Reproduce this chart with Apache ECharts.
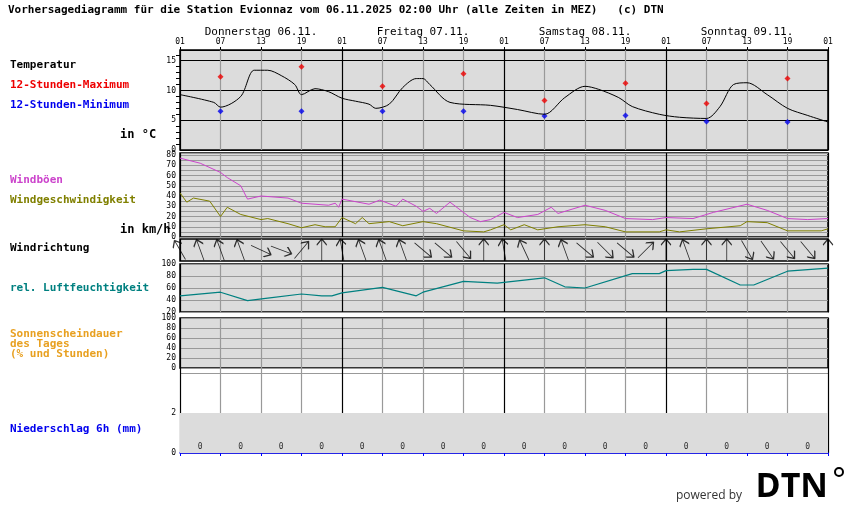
<!DOCTYPE html>
<html>
<head>
<meta charset="utf-8">
<script src="https://cdn.jsdelivr.net/npm/echarts@6/dist/echarts.min.js"></script>
<style>
body{margin:0;background:#fff;}
#chart{width:850px;height:524px;}
</style>
</head>
<body>
<div id="chart"></div>
<script>
// Stunden ab 06.11. 01 Uhr
var hourLabels = ['01','07','13','19'];
var dayNames = ['Donnerstag 06.11.','Freitag 07.11.','Samstag 08.11.','Sonntag 09.11.'];

var tempHours = [0,5,6,9,11,13,15,17,18,20,22,24,26,28,29,31,33,35,36,37,40,46,50,54,57,60,62,65,67,71,74,78,80,82,84,87,90,93,96];
var tempVals  = [9.3,8.0,7.2,9.0,13.4,13.4,12.5,11.0,9.3,10.3,9.8,8.7,8.2,7.7,7.0,7.7,10.5,12.0,12.0,11.0,8.0,7.5,6.8,6.0,8.8,10.7,10.2,8.8,7.3,6.0,5.5,5.3,7.3,11.0,11.3,9.3,7.0,5.8,4.7];
var extHours = [6,18,30,42,54,66,78,90];
var maxVals = [12.3,14.0,10.7,12.8,8.3,11.2,7.8,12.0];
var minVals = [6.5,6.5,6.5,6.5,5.7,5.8,4.8,4.7];

var gustHours = [0,3,6,7,9,10,12,16,18,22,23,23.5,24,28,29.6,32,33,35,36,37,38,40,43,44.5,46,48,50,53,55,56,60,63,66,70,72,76,79,84,87,90,93,96];
var gustVals  = [77,72,63,58,50,37,40,38,33,31,33,29,37,32,36,30,37,30,25,28,23,34,19,15,17,24,19,22,29,23,31,26,18,17,19,18,24,32,26,18,17,18];
var windHours = [0,1,2,4.4,6,7,9,12,13,16,18,20,21.5,23,24,26,27,28,31,33,36,38,42,45,46,48,49,51,53,56,60,63,66,71,72,74,78,83,84,87,90,95,96];
var windVals  = [43,34,38,35,20,29,22,17,18,13,9,12,10,10,19,13,19,13,15,11,15,13,6,5,7,12,7,12,7,10,12,10,5,5,7,5,8,11,15,14,6,6,8];

var dirHours = [0,3,6,9,12,15,18,21,24,27,30,33,36,39,42,45,48,51,54,57,60,63,66,69,72,75,78,81,84,87,90,93,96];
var dirVals  = [330,340,340,340,115,110,40,0,350,340,340,340,130,130,140,0,350,335,0,340,130,135,130,45,0,340,0,0,150,145,140,140,0];

var rhHours = [0,6,10,13,18,21,22.5,24,30,35,36,42,47,54,57,60,67,71,72,76,78,83,85,90,96];
var rhVals  = [47,53,39,43,50,47,47,52,61,47,53,71,68,77,62,60,84,84,89,91,91,65,65,88,93];

var precipHours = [3,9,15,21,27,33,39,45,51,57,63,69,75,81,87,93];
var precipVals  = [0,0,0,0,0,0,0,0,0,0,0,0,0,0,0,0];

var F = 'DejaVu Sans Mono';
var L = 180, W = 648;
var panels = [
  {top:50, height:100},   // Temperatur
  {top:153, height:84},   // Wind
  {top:239, height:22},   // Richtung
  {top:264, height:48},   // Feuchte
  {top:318, height:50},   // Sonne
  {top:368, height:85}    // Niederschlag
];
var vLineColors = ['#000','#999','#999','#999'];

function zip(h,v){ return h.map(function(x,i){ return [x,v[i]]; }); }

var grids = panels.map(function(p,i){
  return {left:L, width:W, top:p.top, height:p.height, show:true,
    backgroundColor: i==5 ? '#fff' : '#dcdcdc', borderColor: i==5 ? 'transparent' : '#000', borderWidth:1.5};
});
var xAxes = panels.map(function(p,i){
  return {type:'value', gridIndex:i, min:0, max:96, interval:6,
    position:'top',
    axisLine:{show: i==5, onZero:false, lineStyle:{color:'#00f', width:1.5}},
    axisTick:{show: i==5 || i==0, inside:false, length:3, lineStyle:{color: i==5 ? '#00f' : '#000'}},
    axisLabel:{show: i==0, fontFamily:F, fontSize:8, color:'#000', margin:4,
      formatter:function(v){ return hourLabels[(v/6)%4]; }},
    splitLine:{show:true, lineStyle:{color:vLineColors, width:1.2}}
  };
});
xAxes[5].position = 'bottom';
var ylab = {fontFamily:F, fontSize:8, color:'#000', margin:4};
var yAxes = [
  {gridIndex:0, min:0, max:16.8, interval:5, axisLabel:Object.assign({showMaxLabel:false},ylab),
   axisLine:{show:false}, axisTick:{show:false}, minorTick:{show:true, splitNumber:5, length:4, lineStyle:{color:'#000'}},
   splitLine:{lineStyle:{color:'#000'}}},
  {gridIndex:1, min:0, max:82, interval:10, axisLabel:Object.assign({showMaxLabel:false},ylab),
   axisLine:{show:false}, axisTick:{show:false},
   splitLine:{lineStyle:{color:'#999'}}, minorSplitLine:{show:true, lineStyle:{color:'#999'}}, minorTick:{show:false, splitNumber:2}},
  {gridIndex:2, min:0, max:1, show:false},
  {gridIndex:3, min:20, max:100, interval:20, axisLabel:ylab, axisLine:{show:false}, axisTick:{show:false},
   splitLine:{lineStyle:{color:'#999'}}},
  {gridIndex:4, min:0, max:100, interval:20, axisLabel:ylab, axisLine:{show:false}, axisTick:{show:false},
   splitLine:{lineStyle:{color:'#999'}}},
  {gridIndex:5, min:0, max:4.25, interval:2,
   axisLabel:Object.assign({formatter:function(v){ return v > 2 ? '' : String(v); }},ylab),
   axisLine:{show:true, lineStyle:{color:'#000'}}, axisTick:{show:false},
   splitLine:{lineStyle:{color:'#999'}}}
];
yAxes.forEach(function(a){ a.type='value'; });

var arrowPath = 'path://M0,-11 L0,11 M0,-11 L-5,-5 M0,-11 L5,-5';

var graphics = [
  {type:'text', left:8, top:5, style:{text:'Vorhersagediagramm für die Station Evionnaz vom 06.11.2025 02:00 Uhr (alle Zeiten in MEZ)   (c) DTN', font:'bold 11px '+F, fill:'#000'}},
  {type:'text', left:10, top:60, style:{text:'Temperatur', font:'bold 11px '+F, fill:'#000'}},
  {type:'text', left:10, top:80, style:{text:'12-Stunden-Maximum', font:'bold 11px '+F, fill:'#e00'}},
  {type:'text', left:10, top:100, style:{text:'12-Stunden-Minimum', font:'bold 11px '+F, fill:'#00e'}},
  {type:'text', left:120, top:129, style:{text:'in °C', font:'bold 12px '+F, fill:'#000'}},
  {type:'text', left:10, top:175, style:{text:'Windböen', font:'bold 11px '+F, fill:'#cc44cc'}},
  {type:'text', left:10, top:195, style:{text:'Windgeschwindigkeit', font:'bold 11px '+F, fill:'#808000'}},
  {type:'text', left:120, top:224, style:{text:'in km/h', font:'bold 12px '+F, fill:'#000'}},
  {type:'text', left:10, top:243, style:{text:'Windrichtung', font:'bold 11px '+F, fill:'#000'}},
  {type:'text', left:10, top:283, style:{text:'rel. Luftfeuchtigkeit', font:'bold 11px '+F, fill:'#008080'}},
  {type:'text', left:10, top:329, style:{text:'Sonnenscheindauer\ndes Tages\n(% und Stunden)', font:'bold 11px '+F, fill:'#e8a020', lineHeight:10}},
  {type:'text', left:10, top:424, style:{text:'Niederschlag 6h (mm)', font:'bold 11px '+F, fill:'#00e'}},
  {type:'text', right:108, top:490, style:{text:'powered by', font:'12px "Open Sans"', fill:'#333'}},
  {type:'text', right:22, top:470, style:{text:'DTN', font:'bold 34px "Open Sans"', fill:'#000'}},
  {type:'circle', shape:{cx:839, cy:472, r:4}, style:{fill:'#fff', stroke:'#000', lineWidth:2}}
];
dayNames.forEach(function(d,i){
  graphics.push({type:'text', x:L + (i*24+12)*6.75, y:27, style:{text:d, font:'11px '+F, fill:'#000', textAlign:'center'}});
});

var chart = echarts.init(document.getElementById('chart'));
chart.setOption({
  animation:false,
  grid:grids, xAxis:xAxes, yAxis:yAxes, graphic:graphics,
  series:[
    {type:'line', xAxisIndex:0, yAxisIndex:0, data:zip(tempHours,tempVals), smooth:0.3, showSymbol:false, lineStyle:{color:'#000', width:1}},
    {type:'scatter', xAxisIndex:0, yAxisIndex:0, data:zip(extHours,maxVals), symbol:'diamond', symbolSize:6, itemStyle:{color:'#e00'}},
    {type:'scatter', xAxisIndex:0, yAxisIndex:0, data:zip(extHours,minVals), symbol:'diamond', symbolSize:6, itemStyle:{color:'#00e'}},
    {type:'line', xAxisIndex:1, yAxisIndex:1, data:zip(gustHours,gustVals), showSymbol:false, lineStyle:{color:'#cc44cc', width:1}},
    {type:'line', xAxisIndex:1, yAxisIndex:1, data:zip(windHours,windVals), showSymbol:false, lineStyle:{color:'#808000', width:1}},
    {type:'scatter', xAxisIndex:2, yAxisIndex:2,
     data:dirHours.map(function(h,i){ return {value:[h,0.5], symbolRotate:-dirVals[i]}; }),
     symbol:arrowPath, symbolSize:[10,22], itemStyle:{color:'none', borderColor:'#000', borderWidth:1.2}},
    {type:'line', xAxisIndex:3, yAxisIndex:3, data:zip(rhHours,rhVals), showSymbol:false, lineStyle:{color:'#008080', width:1.2}},
    {type:'scatter', xAxisIndex:5, yAxisIndex:5, data:zip(precipHours,precipVals), symbolSize:0,
     label:{show:true, position:'top', distance:2, formatter:function(p){ return String(p.value[1]); }, fontFamily:F, fontSize:8, color:'#000'},
     markArea:{silent:true, itemStyle:{color:'#dcdcdc'}, data:[[{yAxis:0},{yAxis:2}]]}}
  ]
});
</script>
</body>
</html>
